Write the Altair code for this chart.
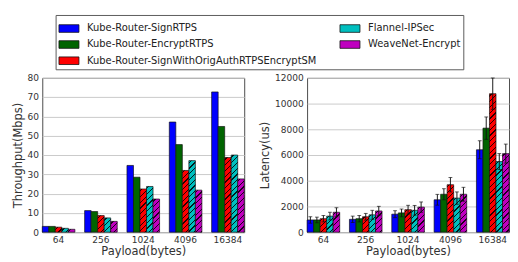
import altair as alt
import pandas as pd

payloads = ["64", "256", "1024", "4096", "16384"]
series = [
    "Kube-Router-SignRTPS",
    "Kube-Router-EncryptRTPS",
    "Kube-Router-SignWithOrigAuthRTPSEncryptSM",
    "Flannel-IPSec",
    "WeaveNet-Encrypt",
]
series_colors = ["#0000ff", "#006400", "#ff0000", "#00bfbf", "#bf00bf"]
hatched_series = [series[2], series[3], series[4]]

throughput_sign = [3.0, 11.2, 34.6, 57.1, 72.7]
throughput_encrypt = [3.0, 10.7, 28.5, 45.4, 54.8]
throughput_signorig = [2.6, 8.6, 22.4, 32.0, 38.7]
throughput_flannel = [2.0, 7.4, 23.7, 37.1, 40.0]
throughput_weave = [1.5, 5.6, 17.2, 21.8, 27.6]

latency_sign = [950, 1000, 1400, 2520, 6410]
latency_encrypt = [950, 1050, 1500, 2950, 8090]
latency_signorig = [1050, 1200, 1750, 3690, 10770]
latency_flannel = [1250, 1350, 1700, 2650, 5490]
latency_weave = [1550, 1650, 1950, 2950, 6110]

latency_err_sign = [250, 250, 270, 420, 700]
latency_err_encrypt = [220, 250, 300, 430, 870]
latency_err_signorig = [250, 260, 340, 560, 1220]
latency_err_flannel = [300, 350, 380, 480, 620]
latency_err_weave = [350, 360, 400, 540, 740]

thr = [throughput_sign, throughput_encrypt, throughput_signorig, throughput_flannel, throughput_weave]
lat = [latency_sign, latency_encrypt, latency_signorig, latency_flannel, latency_weave]
lat_err = [latency_err_sign, latency_err_encrypt, latency_err_signorig, latency_err_flannel, latency_err_weave]

rows_t, rows_l = [], []
for s, tv, lv, le in zip(series, thr, lat, lat_err):
    for p, a, b, e in zip(payloads, tv, lv, le):
        rows_t.append({"payload": p, "series": s, "value": a})
        rows_l.append({"payload": p, "series": s, "value": b, "lo": b - e, "hi": b + e})
df_t = pd.DataFrame(rows_t)
df_l = pd.DataFrame(rows_l)

legend_order = [series[0], series[3], series[1], series[4], series[2]]
legend_colors = [series_colors[series.index(s)] for s in legend_order]

W, H = 212, 162
PAD_INNER = 0.23
T_MAX, L_MAX = 80, 12000
BAR_W = (W / (len(payloads) - PAD_INNER)) * (1 - PAD_INNER) / len(series)
CLEAR = "rgba(0,0,0,0)"
INK = "rgba(0,0,0,0.85)"


def hatch_gradient(h_px, w_px=BAR_W, period=6.0, lw=1.3, phase=2.5):
    """Diagonal '///' hatch texture expressed as a bounding-box linear gradient."""
    h_px = max(h_px, 0.5)
    L = w_px + h_px * h_px / w_px
    stops = [{"offset": 0, "color": CLEAR}]
    c = phase
    while c - lw / 2 < w_px + h_px:
        a = max((c - lw / 2) / L, 0.0)
        b = min((c + lw / 2) / L, 1.0)
        if a >= 1:
            break
        stops += [{"offset": a, "color": CLEAR}, {"offset": a, "color": INK},
                  {"offset": b, "color": INK}, {"offset": b, "color": CLEAR}]
        c += period
    stops.append({"offset": 1, "color": CLEAR})
    return {"gradient": "linear", "x1": 0, "y1": 0, "x2": 1, "y2": h_px / w_px, "stops": stops}


def hatch_fill(df, vmax):
    conds = []
    for _, row in df[df["series"].isin(hatched_series)].iterrows():
        conds.append({
            "test": f"datum.payload == '{row['payload']}' && datum.series == '{row['series']}'",
            "value": hatch_gradient(row["value"] / vmax * H),
        })
    return {"condition": conds, "value": CLEAR}


x_enc = alt.X(
    "payload:N", sort=payloads,
    scale=alt.Scale(paddingInner=PAD_INNER, paddingOuter=0),
    axis=alt.Axis(title="Payload(bytes)", labelAngle=0, grid=False, ticks=False,
                  domain=False, labelPadding=3, titlePadding=2),
)
xo_enc = alt.XOffset("series:N", sort=series, scale=alt.Scale(paddingInner=0, paddingOuter=0))
color_enc = alt.Color(
    "series:N",
    scale=alt.Scale(domain=legend_order, range=legend_colors),
    legend=alt.Legend(title=None),
)

thr_scale = alt.Scale(domain=[0, T_MAX], nice=False)
thr_axis = alt.Axis(title="Throughput(Mbps)", values=list(range(0, 81, 10)),
                    format="d", labelOverlap=False, labelPadding=4, titlePadding=3)
lbase = alt.Chart(df_t)
lbars = lbase.mark_bar(stroke="#111", strokeWidth=0.7).encode(
    x=x_enc, xOffset=xo_enc,
    y=alt.Y("value:Q", scale=thr_scale, axis=thr_axis), color=color_enc)
lhatch = lbase.mark_bar(strokeWidth=0).encode(
    x=x_enc, xOffset=xo_enc,
    y=alt.Y("value:Q", scale=thr_scale, axis=thr_axis), fill=hatch_fill(df_t, T_MAX))
left = alt.layer(lbars, lhatch).properties(width=W, height=H)

lat_scale = alt.Scale(domain=[0, L_MAX], nice=False)
lat_axis = alt.Axis(title="Latency(us)", values=list(range(0, 12001, 2000)),
                    format="d", labelOverlap=False, labelPadding=4, titlePadding=3)
rbase = alt.Chart(df_l)
rbars = rbase.mark_bar(stroke="#111", strokeWidth=0.7).encode(
    x=x_enc, xOffset=xo_enc,
    y=alt.Y("value:Q", scale=lat_scale, axis=lat_axis), color=color_enc)
rhatch = rbase.mark_bar(strokeWidth=0).encode(
    x=x_enc, xOffset=xo_enc,
    y=alt.Y("value:Q", scale=lat_scale, axis=lat_axis), fill=hatch_fill(df_l, L_MAX))
rerr = rbase.mark_rule(color="#111", strokeWidth=1).encode(
    x=x_enc, xOffset=xo_enc, y=alt.Y("lo:Q", scale=lat_scale, axis=lat_axis), y2="hi:Q")
rcap_hi = rbase.mark_tick(color="#111", orient="horizontal", size=4, thickness=1).encode(
    x=x_enc, xOffset=xo_enc, y=alt.Y("hi:Q", scale=lat_scale, axis=lat_axis))
rcap_lo = rbase.mark_tick(color="#111", orient="horizontal", size=4, thickness=1).encode(
    x=x_enc, xOffset=xo_enc, y=alt.Y("lo:Q", scale=lat_scale, axis=lat_axis))
right = alt.layer(rbars, rhatch, rerr, rcap_hi, rcap_lo).properties(width=W, height=H)

sym = "M-1,-0.38H1V0.38H-1Z"

chart = alt.hconcat(left, right, spacing=14).properties(
    padding={"left": 3, "top": 0, "right": 0, "bottom": 0}
).configure(font="DejaVu Sans").configure_view(
    stroke="#444", strokeWidth=1
).configure_axis(
    labelFontSize=9.5, labelColor="#333", titleFontSize=12, titleColor="#333",
    titleFontWeight="normal", gridColor="#c8c8c8", gridWidth=1,
).configure_axisY(domain=False, ticks=False, grid=True).configure_legend(
    orient="none", legendX=14, legendY=-66, columns=2, direction="horizontal",
    strokeColor="#555", padding=3, symbolType=sym, symbolSize=441,
    symbolStrokeColor="#111", symbolStrokeWidth=0.8, symbolOpacity=1,
    labelFontSize=10.4, labelColor="#222", labelOffset=8, columnPadding=22,
    rowPadding=-1, labelLimit=400,
)

chart.save("out.html", embed_options={"renderer": "svg", "actions": False})
